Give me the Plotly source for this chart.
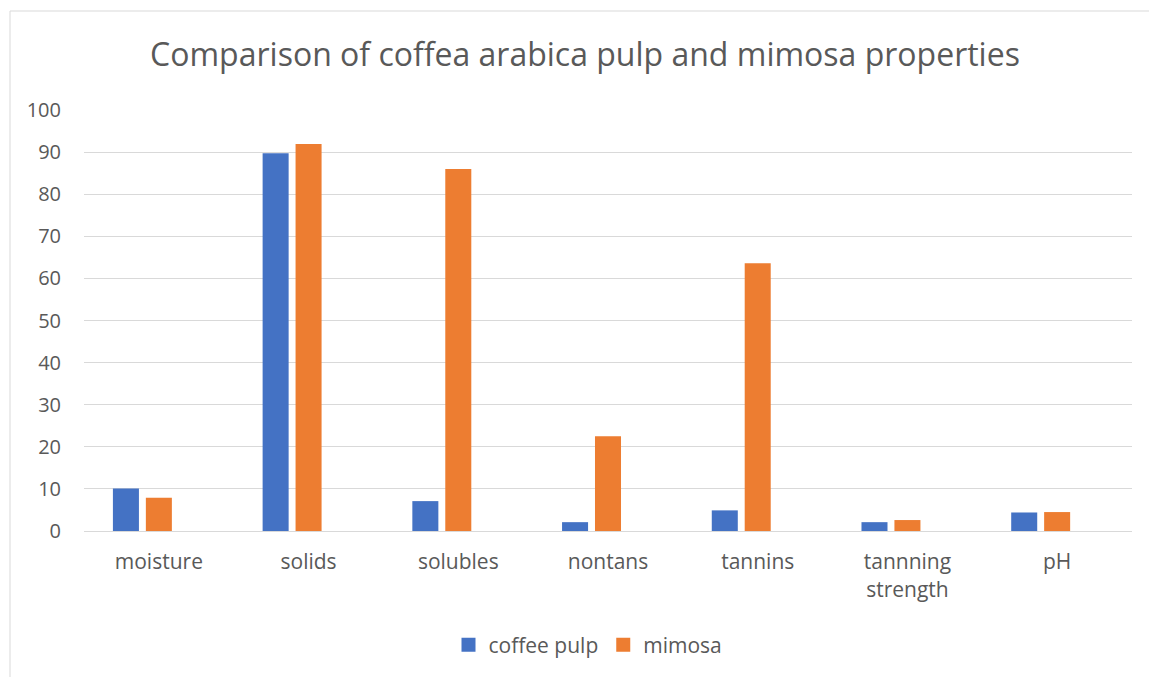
import plotly.graph_objects as go

categories = ["moisture", "solids", "solubles", "nontans", "tannins", "tannning<br>strength", "pH"]
coffee_pulp = [10.1, 89.7, 7.1, 2.1, 4.9, 2.1, 4.4]
mimosa = [7.9, 91.9, 86.0, 22.5, 63.6, 2.6, 4.5]
y_ticks = list(range(0, 101, 10))

W, H = 1149, 677
ml, mr, mt, mb = 84, 17, 110, 146
pw, ph = W - ml - mr, H - mt - mb

colors = {"coffee pulp": "#4472C4", "mimosa": "#ED7D31"}

fig = go.Figure()
fig.add_trace(go.Bar(name="coffee pulp", x=categories, y=coffee_pulp, marker_color=colors["coffee pulp"],
                     marker_line_width=0, showlegend=False))
fig.add_trace(go.Bar(name="mimosa", x=categories, y=mimosa, marker_color=colors["mimosa"],
                     marker_line_width=0, showlegend=False))
# empty third series slot (as in the source chart)
fig.add_trace(go.Bar(name="", x=categories, y=[None] * len(categories), showlegend=False,
                     hoverinfo="skip"))
# legend entries with larger square markers
for name in ["coffee pulp", "mimosa"]:
    fig.add_trace(go.Scatter(name=name, x=[None], y=[None], mode="markers",
                             marker=dict(symbol="square", size=14, color=colors[name])))

font = "Open Sans, Noto Sans, sans-serif"
fig.update_layout(
    width=W, height=H,
    margin=dict(l=ml, r=mr, t=mt, b=mb),
    paper_bgcolor="white", plot_bgcolor="white",
    barmode="group", bargap=0.34, bargroupgap=0.21,
    title=dict(text="Comparison of coffea arabica pulp and mimosa properties",
               x=(585 - ml) / pw, xanchor="center", xref="paper", y=1 - 55 / H, yanchor="middle",
               font=dict(family=font, size=32, color="#595959")),
    font=dict(family=font, color="#595959"),
    legend=dict(orientation="h", x=(588 - ml) / pw, xanchor="center", y=-(645 - (H - mb)) / ph,
                yanchor="middle", font=dict(size=21, color="#595959"), itemwidth=30, tracegroupgap=0),
    showlegend=True,
)
fig.update_yaxes(range=[0, 100], tickvals=y_ticks, showgrid=True, gridcolor="#D9D9D9", gridwidth=1,
                 zeroline=False, showline=False, tickfont=dict(size=20, color="#595959"),
                 ticks="", ticklabelstandoff=22, fixedrange=True)
fig.update_xaxes(showline=True, linecolor="#D9D9D9", linewidth=1, ticks="",
                 tickfont=dict(size=21, color="#595959"), ticklabelstandoff=12)

# chart border
x0 = (10 - ml) / pw
y0 = 1 + (mt - 11) / ph
fig.add_shape(type="rect", xref="paper", yref="paper", x0=x0, x1=(W + 20 - ml) / pw,
              y0=-(mb + 20) / ph, y1=y0, line=dict(color="#D9D9D9", width=1), layer="below")

fig.write_html("out.html")
